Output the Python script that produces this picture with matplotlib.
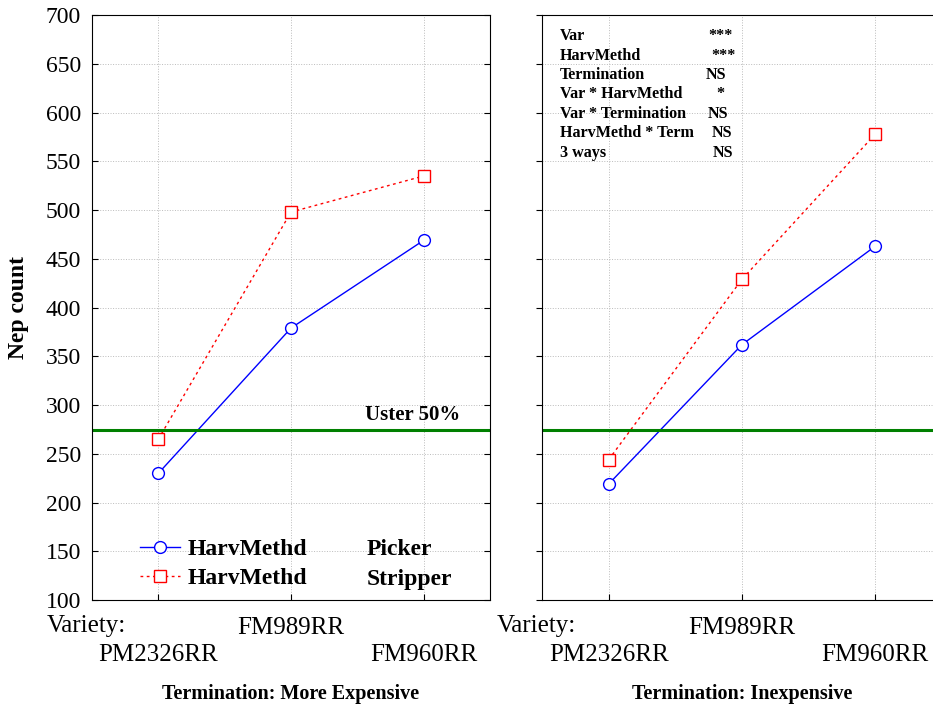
import matplotlib
matplotlib.use("Agg")
import matplotlib.pyplot as plt
from matplotlib.lines import Line2D

plt.rcParams['font.family'] = ['Liberation Serif', 'DejaVu Serif']

# 數據
varieties = ["PM2326RR", "FM989RR", "FM960RR"]
panel_titles = ["Termination: More Expensive", "Termination: Inexpensive"]
picker_exp = [230, 379, 469]
stripper_exp = [265, 498, 535]
picker_inexp = [219, 362, 463]
stripper_inexp = [244, 429, 578]
uster_50 = 274
y_ticks = list(range(100, 701, 50))

anova_terms = ["Var", "HarvMethd", "Termination", "Var * HarvMethd",
               "Var * Termination", "HarvMethd * Term", "3 ways"]
anova_sig = ["***", "***", "NS", "*", "NS", "NS", "NS"]
anova_sig_x = [0.415, 0.4225, 0.41, 0.435, 0.415, 0.425, 0.4275]

fig = plt.figure(figsize=(9.33, 7.06), dpi=100)
ax1 = fig.add_axes([0.0986, 0.150, 0.4266, 0.8286])
ax2 = fig.add_axes([0.5809, 0.150, 0.4287, 0.8286])

x = [1, 2, 3]

for ax, pick, strip, title in [(ax1, picker_exp, stripper_exp, panel_titles[0]),
                               (ax2, picker_inexp, stripper_inexp, panel_titles[1])]:
    ax.plot(x, pick, color='blue', lw=1, marker='o', ms=8.5, mfc='white',
            mec='blue', mew=1)
    ax.plot(x, strip, color='red', lw=1, ls=(0, (2, 2.5)), marker='s', ms=8.5,
            mfc='white', mec='red', mew=1)
    ax.axhline(uster_50, color='green', lw=2.2)
    ax.set_xlim(0.5, 3.5)
    ax.set_ylim(100, 700)
    ax.set_yticks(y_ticks)
    # 標籤交錯顯示：中間的放在上排
    ax.xaxis.remove_overlapping_locs = False
    ax.set_xticks(x)
    ax.set_xticklabels([varieties[0], "", varieties[2]], fontsize=18)
    ax.set_xticks([x[1]], minor=True)
    ax.set_xticklabels([varieties[1]], minor=True, fontsize=18)
    ax.grid(True, ls=':', color='#bbbbbb', lw=0.7)
    ax.set_axisbelow(True)
    ax.tick_params(axis='x', which='major', direction='in', length=4, pad=31.5)
    ax.tick_params(axis='x', which='minor', length=0, pad=12.5)
    ax.set_xlabel(title, fontsize=14.5, fontweight='bold', labelpad=13)
    ax.text(-0.113, -0.044, "Variety:", transform=ax.transAxes, fontsize=18,
            ha='left', va='center')

ax1.tick_params(axis='y', direction='in', length=4, right=True, labelsize=17, pad=8)
ax1.set_ylabel("Nep count", fontsize=17, fontweight='bold', labelpad=12)
ax2.tick_params(axis='y', direction='out', length=4, labelleft=False)

ax1.text(0.925, 0.317, "Uster 50%", transform=ax1.transAxes, fontsize=15,
         fontweight='bold', ha='right', va='center')

# 圖例
handles = [Line2D([], [], color='blue', lw=1, marker='o', ms=8.5, mfc='white', mec='blue'),
           Line2D([], [], color='red', lw=1, ls=(0, (2, 2.5)), marker='s', ms=8.5,
                  mfc='white', mec='red')]
ax1.legend(handles, ["HarvMethd", "HarvMethd"], loc='lower left',
           bbox_to_anchor=(0.067, -0.0175), frameon=False, handlelength=1.7,
           handletextpad=0.34, labelspacing=0.3, prop={'size': 17, 'weight': 'bold'})
ax1.text(0.691, 0.0872, "Picker", transform=ax1.transAxes, fontsize=17,
         fontweight='bold', va='center')
ax1.text(0.691, 0.0359, "Stripper", transform=ax1.transAxes, fontsize=17,
         fontweight='bold', va='center')

# ANOVA 結果
for i, (term, sig, sx) in enumerate(zip(anova_terms, anova_sig, anova_sig_x)):
    yy = 1 - (36 - 15 + i * 19.4) / 585
    ax2.text(0.045, yy, term, transform=ax2.transAxes, fontsize=11.6,
             fontweight='bold', va='center')
    ax2.text(sx, yy, sig, transform=ax2.transAxes, fontsize=11.6,
             fontweight='bold', va='center')

fig.savefig("out.png", dpi=100)
